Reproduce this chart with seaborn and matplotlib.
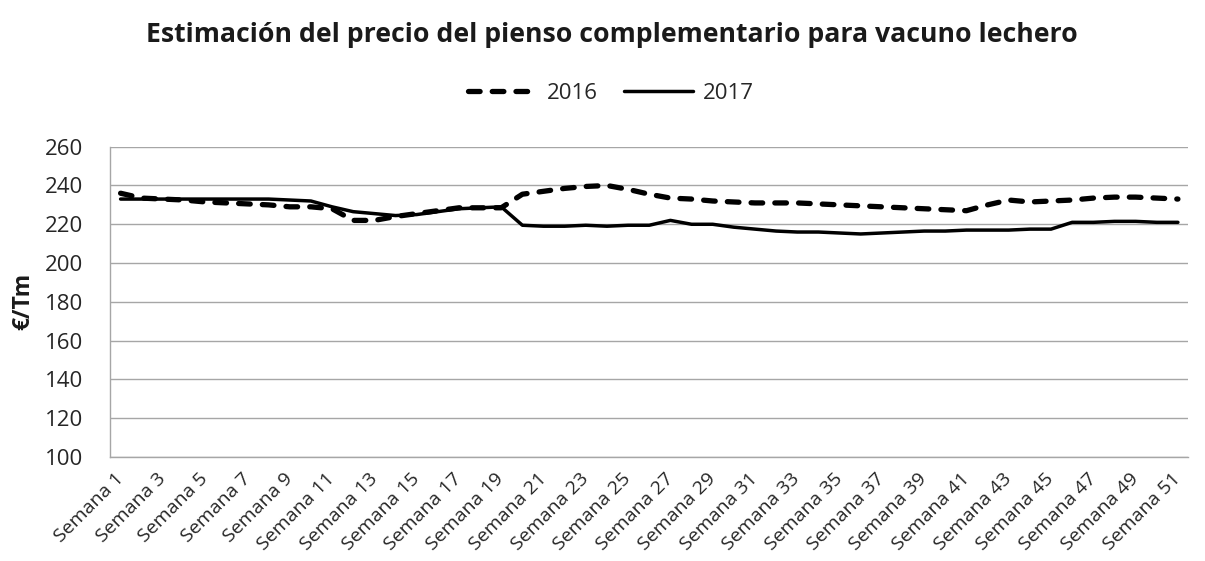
import numpy as np
import pandas as pd
import matplotlib.pyplot as plt
import seaborn as sns

# === DATA ===
weeks = list(range(1, 52))
week_labels = [f"Semana {w}" for w in weeks]
precio_2016 = [236, 233.5, 233, 232.5, 231.5, 231, 230.5, 230, 229, 229,
               228, 222, 222, 224, 225.5, 227, 228.5, 228.5, 228.5, 235.5,
               237, 238.5, 239.5, 240, 238, 235.5, 233.5, 233, 232, 231.5,
               231, 231, 231, 230.5, 230, 229.5, 229, 228.5, 228, 227.5,
               227, 230, 232.5, 231.5, 232, 232.5, 233.5, 234, 234, 233.5, 233]
precio_2017 = [233, 233, 233, 233, 233, 233, 233, 233, 232.5, 232,
               229, 226.5, 225.5, 224.5, 225, 226.5, 228, 228.5, 229, 219.5,
               219, 219, 219.5, 219, 219.5, 219.5, 222, 220, 220, 218.5,
               217.5, 216.5, 216, 216, 215.5, 215, 215.5, 216, 216.5, 216.5,
               217, 217, 217, 217.5, 217.5, 221, 221, 221.5, 221.5, 221, 221]
years = ["2016", "2017"]

df = pd.DataFrame({
    "semana": weeks * 2,
    "precio": precio_2016 + precio_2017,
    "año": [years[0]] * len(weeks) + [years[1]] * len(weeks),
})

DASH = (2.2, 2.3)
LW_DASH = 3.8
LW_SOLID = 2.5
GRID = "#a6a6a6"
TXT = "#262626"

# === PLOT ===
sns.set_style("white")
plt.rcParams["font.family"] = ["Open Sans", "DejaVu Sans"]

fig = plt.figure(figsize=(12.05, 5.61), dpi=100)
ax = fig.add_axes([0.0913, 0.1854, 0.895, 0.5531])

sns.lineplot(data=df, x="semana", y="precio", hue="año", style="año",
             palette={"2016": "black", "2017": "black"},
             dashes={"2016": DASH, "2017": ""},
             linewidth=LW_SOLID, ax=ax, legend=False)
ax.lines[0].set_linewidth(LW_DASH)
ax.lines[0].set_dash_capstyle("round")

ax.set_xlim(0.5, 51.5)
ax.set_ylim(100, 260)
ax.set_yticks(np.arange(100, 261, 20))
ax.yaxis.grid(True, color=GRID, linewidth=1)
ax.set_axisbelow(True)

ax.set_xticks(weeks[::2])
ax.set_xticklabels(week_labels[::2], rotation=45, ha="right", va="center",
                   rotation_mode="anchor", fontsize=14, color=TXT)
ax.set_xticks(np.arange(0.5, 52, 1), minor=True)
ax.tick_params(axis="x", which="major", length=0, pad=14)
ax.tick_params(axis="x", which="minor", length=5, color=GRID, width=1)
ax.tick_params(axis="y", length=6.5, color=GRID, width=1, pad=13,
               labelsize=16, labelcolor=TXT)

for s in ["top", "right"]:
    ax.spines[s].set_visible(False)
for s in ["left", "bottom"]:
    ax.spines[s].set_color(GRID)
    ax.spines[s].set_linewidth(1)

ax.set_xlabel("")
ax.set_ylabel("€/Tm", fontsize=16.5, fontweight="bold", color="#1a1a1a")
ax.yaxis.set_label_coords(-0.0695, 0.5)

# legend
handles = [plt.Line2D([], [], color="black", linewidth=LW_DASH,
                      linestyle=(0, DASH), dash_capstyle="round"),
           plt.Line2D([], [], color="black", linewidth=LW_SOLID)]
fig.legend(handles, years, loc="center", bbox_to_anchor=(0.507, 0.834), ncol=2,
           frameon=False, fontsize=16, handlelength=3.1, columnspacing=1.17,
           handletextpad=0.45, labelcolor=TXT)

fig.text(0.5075, 1 - 41.7 / 561,
         "Estimación del precio del pienso complementario para vacuno lechero",
         ha="center", va="baseline", fontsize=19.2, fontweight="bold",
         color="#1a1a1a")

plt.savefig("out.png", dpi=100)
plt.close(fig)
